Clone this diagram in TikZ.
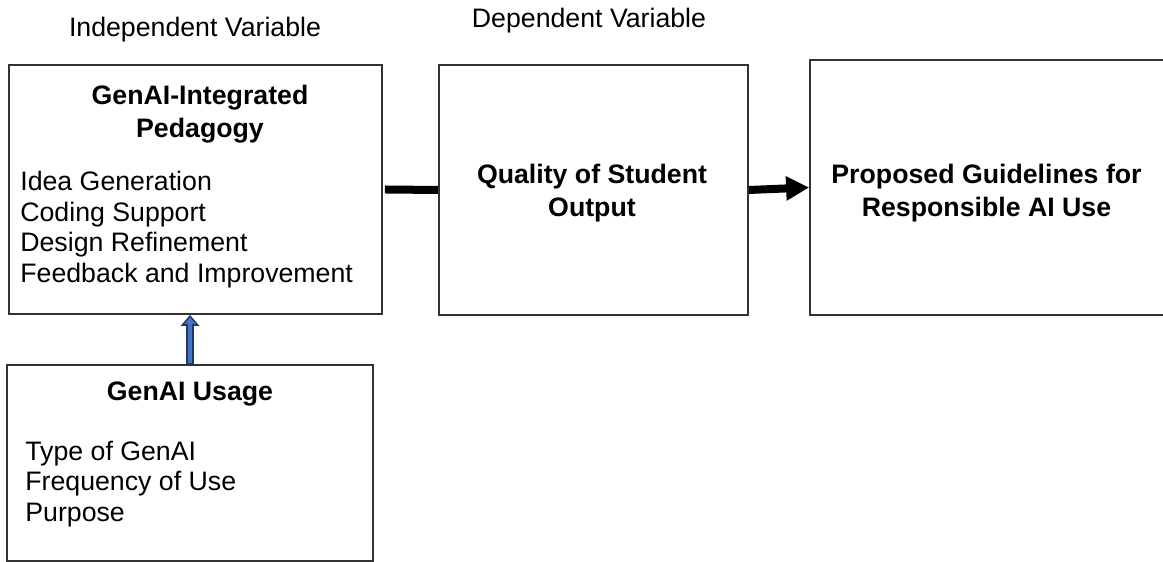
\documentclass[tikz,border=0pt]{standalone}
\usepackage{fontspec}
\setmainfont{Liberation Sans}
\usetikzlibrary{arrows.meta}
\definecolor{arrowblue}{HTML}{4472C4}
\definecolor{arrownavy}{HTML}{1F3864}
\tikzset{
  box/.style={draw=black!80, line width=0.035cm, inner sep=0pt},
  heading/.style={font=\fontsize{15.2}{18.8}\selectfont\bfseries, align=center, inner sep=0pt},
  items/.style={font=\fontsize{15.2}{17.4}\selectfont, align=left, inner sep=0pt},
  vartext/.style={font=\fontsize{15.2}{18}\selectfont, inner sep=0pt}
}
\begin{document}
\begin{tikzpicture}
    \clip (0,0) rectangle (23.26,11.24);
    % variable captions
    \node[vartext] (indep) at (3.9,10.64) {Independent Variable};
    \node[vartext] (dep) at (11.78,10.82) {Dependent Variable};
    % boxes
    \node[box, minimum width=7.46cm, minimum height=4.98cm] (pedagogy) at (3.91,7.45) {};
    \node[box, minimum width=6.18cm, minimum height=5.0cm] (output) at (11.87,7.44) {};
    \node[box, minimum width=7.3cm, minimum height=5.1cm] (guide) at (19.85,7.49) {};
    \node[box, minimum width=7.32cm, minimum height=3.92cm] (usage) at (3.80,1.98) {};
    % texts in the boxes
    \node[heading] (pedtitle) at (4.0,8.95) {GenAI-Integrated\\Pedagogy};
    \node[items, anchor=west] (peditems) at (0.4,6.65) {Idea Generation\\Coding Support\\Design Refinement\\Feedback and Improvement};
    \node[heading] (outtitle) at (11.84,7.38) {Quality of Student\\Output};
    \node[heading] (guidetitle) at (19.73,7.38) {Proposed Guidelines for\\Responsible AI Use};
    \node[heading] (usetitle) at (3.8,3.36) {GenAI Usage};
    \node[items, anchor=west] (useitems) at (0.5,1.56) {Type of GenAI\\Frequency of Use\\Purpose};
    % connectors
    \draw[line width=0.16cm] ([xshift=0.04cm]pedagogy.east) -- (output.west);
    \draw[line width=0.16cm, -{Triangle[length=0.46cm,width=0.46cm]}] (output.east) -- (guide.west);
    \draw[line width=0.16cm, arrownavy, -{Triangle[length=0.22cm,width=0.36cm]}] (usage.north) -- (usage.north |- pedagogy.south);
    \draw[line width=0.07cm, arrowblue, -{Triangle[length=0.13cm,width=0.22cm]}] ([yshift=0.02cm]usage.north) -- ([yshift=-0.05cm]usage.north |- pedagogy.south);
\end{tikzpicture}
\end{document}
